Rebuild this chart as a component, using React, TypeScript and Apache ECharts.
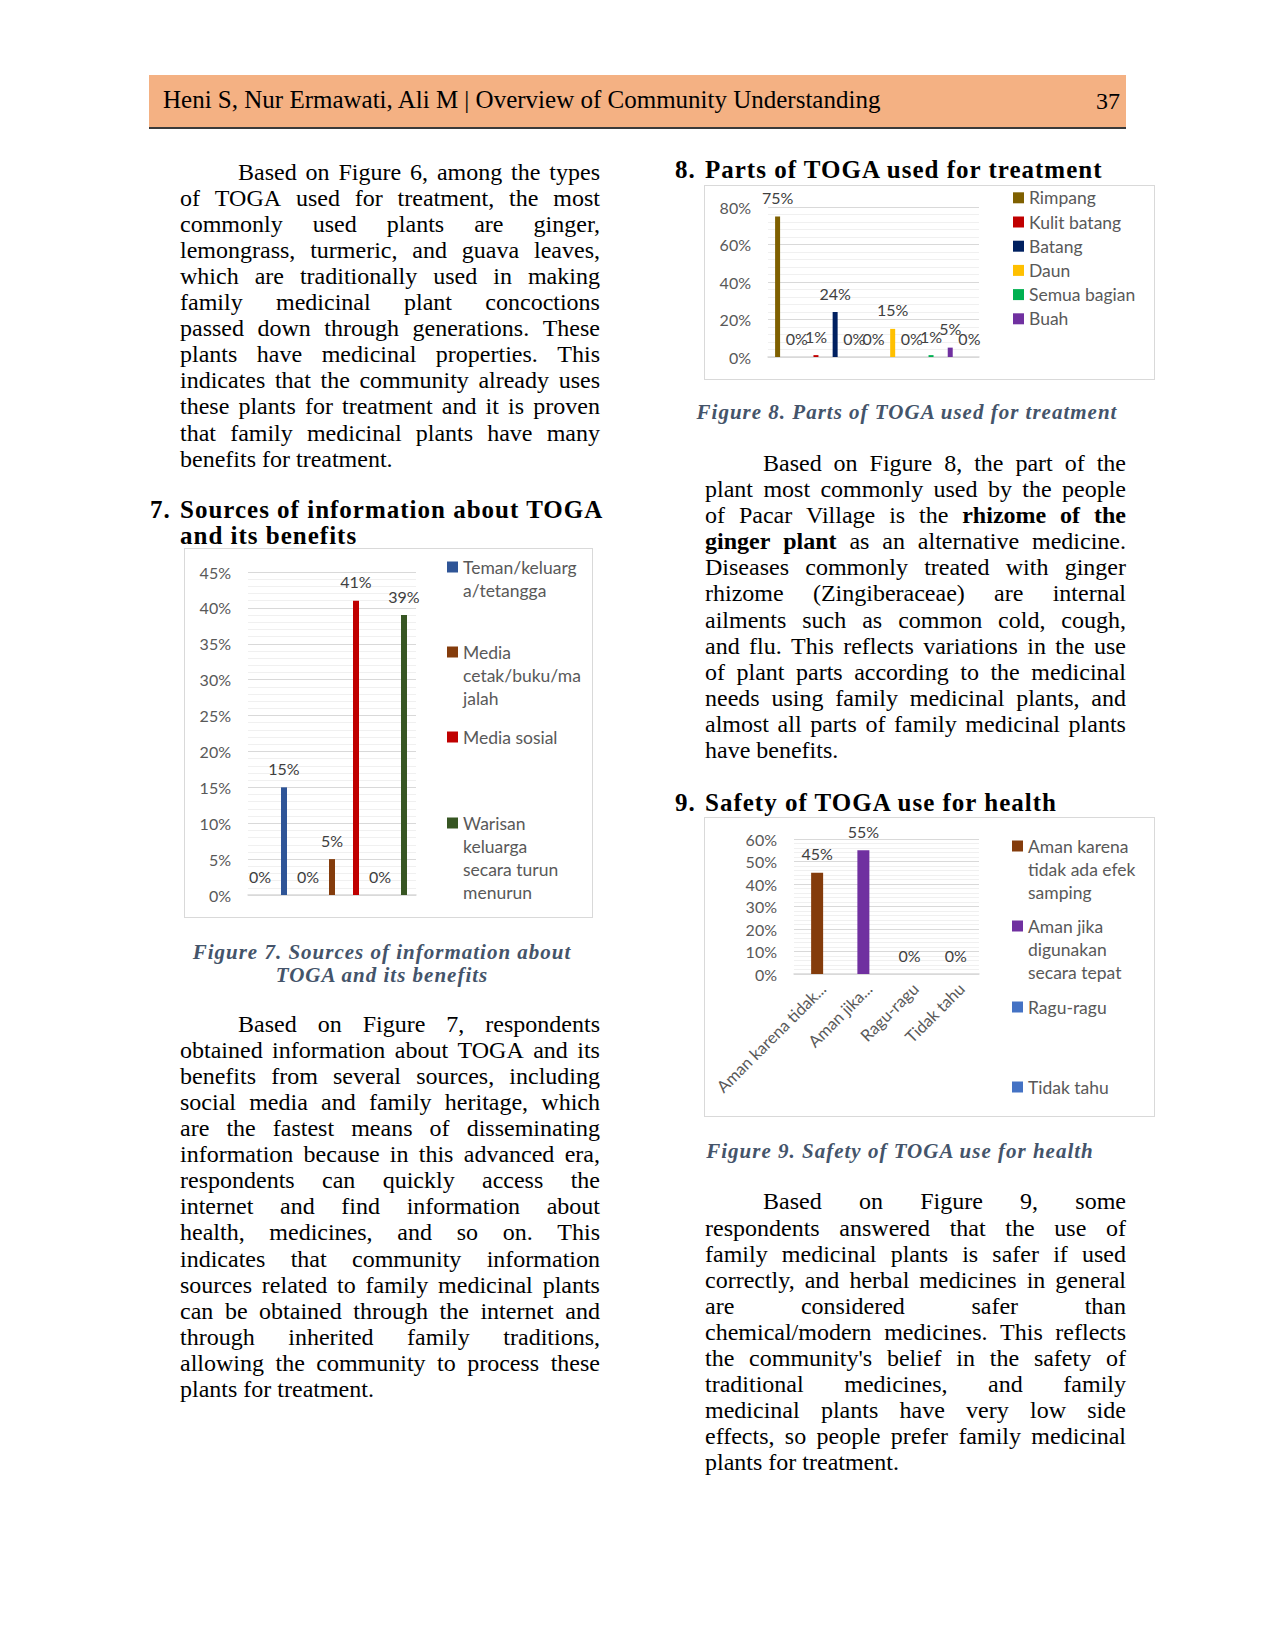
import { useRef, useEffect } from "react";
import * as echarts from "echarts";

const SERIF = '"Liberation Serif", "DejaVu Serif", serif';
const SANS = 'Lato, "Open Sans", sans-serif';

// Figure 7 - sumber informasi
const sourceSlots = ["", "", "", "", "", "", ""];
const sourceNames = [
  "Teman/keluarga/tetangga",
  "Media cetak/buku/majalah",
  "Media sosial",
  "Warisan keluarga secara turun menurun",
];
const sourceLegend = [
  "Teman/keluarg\na/tetangga",
  "Media\ncetak/buku/ma\njalah",
  "Media sosial",
  "Warisan\nkeluarga\nsecara turun\nmenurun",
];
const temanValues = [0, 15, "-", "-", "-", "-", "-"];
const mediaCetakValues = ["-", "-", 0, 5, "-", "-", "-"];
const mediaSosialValues = ["-", "-", "-", "-", 41, "-", "-"];
const warisanValues = ["-", "-", "-", "-", "-", 0, 39];

// Figure 8 - bagian tanaman
const partSlots = ["", "", "", "", "", "", "", "", "", "", ""];
const partNames = ["Rimpang", "Kulit batang", "Batang", "Daun", "Semua bagian", "Buah"];
const rimpangValues = [75, "-", "-", "-", "-", "-", "-", "-", "-", "-", "-"];
const kulitBatangValues = ["-", 0, 1, "-", "-", "-", "-", "-", "-", "-", "-"];
const batangValues = ["-", "-", "-", 24, 0, "-", "-", "-", "-", "-", "-"];
const daunValues = ["-", "-", "-", "-", "-", 0, 15, "-", "-", "-", "-"];
const semuaBagianValues = ["-", "-", "-", "-", "-", "-", "-", 0, 1, "-", "-"];
const buahValues = ["-", "-", "-", "-", "-", "-", "-", "-", "-", 5, 0];

// Figure 9 - keamanan
const safetyCategories = ["Aman karena tidak...", "Aman jika...", "Ragu-ragu", "Tidak tahu"];
const safetyNames = [
  "Aman karena tidak ada efek samping",
  "Aman jika digunakan secara tepat",
  "Ragu-ragu",
  "Tidak tahu",
];
const safetyLegend = [
  "Aman karena\ntidak ada efek\nsamping",
  "Aman jika\ndigunakan\nsecara tepat",
  "Ragu-ragu",
  "Tidak tahu",
];
const amanKarenaValues = [45, "-", "-", "-"];
const amanJikaValues = ["-", 55, "-", "-"];
const raguValues = ["-", "-", 0, "-"];
const tidakTahuValues = ["-", "-", "-", 0];

// page text
const para1 = [
  "Based on Figure 6, among the types",
  "of TOGA used for treatment, the most",
  "commonly used plants are ginger,",
  "lemongrass, turmeric, and guava leaves,",
  "which are traditionally used in making",
  "family medicinal plant concoctions",
  "passed down through generations. These",
  "plants have medicinal properties. This",
  "indicates that the community already uses",
  "these plants for treatment and it is proven",
  "that family medicinal plants have many",
  "benefits for treatment.",
];
const para2 = [
  "Based on Figure 7, respondents",
  "obtained information about TOGA and its",
  "benefits from several sources, including",
  "social media and family heritage, which",
  "are the fastest means of disseminating",
  "information because in this advanced era,",
  "respondents can quickly access the",
  "internet and find information about",
  "health, medicines, and so on. This",
  "indicates that community information",
  "sources related to family medicinal plants",
  "can be obtained through the internet and",
  "through inherited family traditions,",
  "allowing the community to process these",
  "plants for treatment.",
];
const para3 = [
  "Based on Figure 8, the part of the",
  "plant most commonly used by the people",
  "of Pacar Village is the **rhizome of the**",
  "**ginger plant** as an alternative medicine.",
  "Diseases commonly treated with ginger",
  "rhizome (Zingiberaceae) are internal",
  "ailments such as common cold, cough,",
  "and flu. This reflects variations in the use",
  "of plant parts according to the medicinal",
  "needs using family medicinal plants, and",
  "almost all parts of family medicinal plants",
  "have benefits.",
];
const para4 = [
  "Based on Figure 9, some",
  "respondents answered that the use of",
  "family medicinal plants is safer if used",
  "correctly, and herbal medicines in general",
  "are considered safer than",
  "chemical/modern medicines. This reflects",
  "the community's belief in the safety of",
  "traditional medicines, and family",
  "medicinal plants have very low side",
  "effects, so people prefer family medicinal",
  "plants for treatment.",
];

const axisText = { fontFamily: SANS, fontSize: 16, color: "#595959" };
const legendText = { fontFamily: SANS, fontSize: 17.5, color: "#595959" };
const LEGEND_LH = 23;

function valueAxis(max: number, interval: number) {
  return {
    type: "value",
    min: 0,
    max,
    interval,
    axisLabel: { ...axisText, formatter: "{value}%", margin: 17 },
    axisLine: { show: false },
    axisTick: { show: false },
    splitLine: { lineStyle: { color: "#D9D9D9" } },
    minorTick: { show: false, splitNumber: 5 },
    minorSplitLine: { show: true, lineStyle: { color: "#F0F0F0" } },
  };
}

function slotAxis(data: string[], labels: boolean) {
  return {
    type: "category",
    data,
    axisLine: { lineStyle: { color: "#D9D9D9", width: 1.5 } },
    axisTick: { show: false },
    axisLabel: labels
      ? { ...axisText, fontSize: 16.5, rotate: 45, interval: 0, margin: 6, verticalAlign: "top" }
      : { show: false },
  };
}

function bar(name: string, data: any[], color: string, width: number) {
  return {
    name,
    type: "bar",
    data,
    barWidth: width,
    barGap: "-100%",
    itemStyle: { color },
    label: {
      show: true,
      position: "top",
      distance: 11,
      formatter: "{c}%",
      fontFamily: SANS,
      fontSize: 16,
      color: "#404040",
    },
  };
}

// legend item: icon beside the first line, following lines as text below it
function legendItem(name: string, text: string, left: number, center: number) {
  const first = text.split("\n")[0];
  return {
    data: [name],
    left,
    top: center - LEGEND_LH / 2,
    orient: "vertical",
    padding: 0,
    icon: "rect",
    itemWidth: 11,
    itemHeight: 11,
    selectedMode: false,
    formatter: () => first,
    textStyle: { ...legendText, lineHeight: LEGEND_LH },
  };
}

function legendRest(text: string, left: number, center: number) {
  const rest = text.split("\n").slice(1);
  if (!rest.length) return null;
  return {
    type: "text",
    left: left + 16,
    top: center + LEGEND_LH / 2,
    style: {
      text: rest.join("\n"),
      font: `17.5px ${SANS}`,
      fill: "#595959",
      lineHeight: LEGEND_LH,
    },
  };
}

const legend7Centers = [19, 104, 189, 275];
const legend9Centers = [29, 109, 190, 270];

const option7 = {
  animation: false,
  grid: { left: 64, top: 24, width: 168, height: 323 },
  xAxis: slotAxis(sourceSlots, false),
  yAxis: valueAxis(45, 5),
  legend: sourceNames.map((n, i) => legendItem(n, sourceLegend[i], 263, legend7Centers[i])),
  graphic: sourceLegend.map((t, i) => legendRest(t, 263, legend7Centers[i])).filter(Boolean),
  series: [
    bar(sourceNames[0], temanValues, "#2F5597", 6),
    bar(sourceNames[1], mediaCetakValues, "#843C0C", 6),
    bar(sourceNames[2], mediaSosialValues, "#C00000", 6),
    bar(sourceNames[3], warisanValues, "#375623", 6),
  ],
};

const option8 = {
  animation: false,
  grid: { left: 64, top: 22, width: 211, height: 150 },
  xAxis: slotAxis(partSlots, false),
  yAxis: valueAxis(80, 20),
  legend: {
    data: partNames,
    orient: "vertical",
    left: 309,
    top: 3,
    padding: 0,
    icon: "rect",
    itemWidth: 11,
    itemHeight: 11,
    itemGap: 4.6,
    selectedMode: false,
    textStyle: { ...legendText, lineHeight: 19.6 },
  },
  series: [
    bar(partNames[0], rimpangValues, "#7F6000", 5),
    bar(partNames[1], kulitBatangValues, "#C00000", 5),
    bar(partNames[2], batangValues, "#002060", 5),
    bar(partNames[3], daunValues, "#FFC000", 5),
    bar(partNames[4], semuaBagianValues, "#00B050", 5),
    bar(partNames[5], buahValues, "#7030A0", 5),
  ],
};

const option9 = {
  animation: false,
  grid: { left: 90, top: 22, width: 185, height: 135 },
  xAxis: slotAxis(safetyCategories, true),
  yAxis: valueAxis(60, 10),
  legend: safetyNames.map((n, i) => legendItem(n, safetyLegend[i], 308, legend9Centers[i])),
  graphic: safetyLegend.map((t, i) => legendRest(t, 308, legend9Centers[i])).filter(Boolean),
  series: [
    bar(safetyNames[0], amanKarenaValues, "#843C0C", 12),
    bar(safetyNames[1], amanJikaValues, "#7030A0", 12),
    bar(safetyNames[2], raguValues, "#4472C4", 12),
    bar(safetyNames[3], tidakTahuValues, "#4472C4", 12),
  ],
};

const Chart = ({ option, left, top, width, height }: any) => {
  const ref = useRef<HTMLDivElement>(null);
  useEffect(() => {
    const chart = echarts.init(ref.current, null, { renderer: "svg" });
    chart.setOption(option);
    return () => {
      chart.dispose();
    };
  }, []);
  return (
    <>
      <div ref={ref} style={{ position: "absolute", left, top, width, height }} />
      <div
        style={{
          position: "absolute",
          left,
          top,
          width,
          height,
          border: "1.5px solid #D9D9D9",
          boxSizing: "border-box",
          pointerEvents: "none",
        }}
      />
    </>
  );
};

const Words = ({ text }: { text: string }) => {
  let bold = false;
  return (
    <>
      {text.split(" ").map((w, i) => {
        let word = w;
        if (word.startsWith("**")) {
          bold = true;
          word = word.slice(2);
        }
        const isBold = bold;
        if (word.endsWith("**")) {
          word = word.slice(0, -2);
          bold = false;
        }
        return (
          <span key={i} style={{ fontWeight: isBold ? "bold" : "normal" }}>
            {word}
          </span>
        );
      })}
    </>
  );
};

const Paragraph = ({ lines, x, width, y }: any) => (
  <>
    {lines.map((line: string, i: number) => {
      const last = i === lines.length - 1;
      return (
        <div
          key={i}
          style={{
            position: "absolute",
            left: x,
            top: y + i * 26.1 - 14,
            width,
            height: 28,
            lineHeight: "28px",
            paddingLeft: i === 0 ? 58 : 0,
            boxSizing: "border-box",
            display: "flex",
            justifyContent: last ? "flex-start" : "space-between",
            gap: last ? "0.25em" : 0,
            whiteSpace: "nowrap",
          }}
        >
          <Words text={line} />
        </div>
      );
    })}
  </>
);

const headingStyle = {
  position: "absolute" as const,
  lineHeight: "28px",
  fontWeight: "bold",
  fontSize: 25,
  letterSpacing: "1px",
  whiteSpace: "nowrap" as const,
};

const Heading = ({ num, lines, x, y }: any) => (
  <>
    <div style={{ ...headingStyle, left: x - 30, top: y - 14 }}>{num}</div>
    {lines.map((l: string, i: number) => (
      <div key={i} style={{ ...headingStyle, left: x, top: y - 14 + i * 25.5 }}>
        {l}
      </div>
    ))}
  </>
);

// one text block; a second line comes from <br />
const Caption = ({ lines, cx, y }: any) => (
  <div
    style={{
      position: "absolute",
      left: cx - 250,
      width: 500,
      top: y - 11,
      lineHeight: "22.5px",
      textAlign: "center",
      fontWeight: "bold",
      fontStyle: "italic",
      fontSize: 21,
      letterSpacing: "1px",
      color: "#44546A",
      whiteSpace: "nowrap",
    }}
  >
    {lines.map((l: string, i: number) => (
      <span key={i}>
        {i > 0 && <br />}
        {l}
      </span>
    ))}
  </div>
);

const App = () => {
  return (
    <div
      style={{
        position: "absolute",
        left: 0,
        top: 0,
        width: 1275,
        height: 1650,
        background: "#fff",
        fontFamily: SERIF,
        fontSize: 24,
        color: "#000",
        overflow: "hidden",
      }}
    >
      <div style={{ position: "absolute", left: 149, top: 75, width: 977, height: 52, background: "#F4B183" }} />
      <div style={{ position: "absolute", left: 149, top: 127, width: 977, height: 2, background: "#3A3A3A" }} />
      <div style={{ position: "absolute", left: 163, top: 85, lineHeight: "30px", fontSize: 25, whiteSpace: "nowrap" }}>
        Heni S, Nur Ermawati, Ali M | Overview of Community Understanding
      </div>
      <div style={{ position: "absolute", right: 1275 - 1120, top: 86, lineHeight: "30px", fontSize: 24 }}>37</div>

      <Paragraph lines={para1} x={180} width={420} y={171.5} />
      <Heading num="7." lines={["Sources of information about TOGA", "and its benefits"]} x={180} y={510} />
      <Chart option={option7} left={184} top={548} width={409} height={370} />
      <Caption lines={["Figure 7. Sources of information about", "TOGA and its benefits"]} cx={382} y={952} />
      <Paragraph lines={para2} x={180} width={420} y={1023.6} />

      <Heading num="8." lines={["Parts of TOGA used for treatment"]} x={705} y={170.4} />
      <Chart option={option8} left={704} top={185} width={451} height={195} />
      <Caption lines={["Figure 8. Parts of TOGA used for treatment"]} cx={907} y={412} />
      <Paragraph lines={para3} x={705} width={421} y={462.9} />

      <Heading num="9." lines={["Safety of TOGA use for health"]} x={705} y={802.7} />
      <Chart option={option9} left={704} top={817} width={451} height={300} />
      <Caption lines={["Figure 9. Safety of TOGA use for health"]} cx={900} y={1151} />
      <Paragraph lines={para4} x={705} width={421} y={1201.4} />
    </div>
  );
};

export default App;
